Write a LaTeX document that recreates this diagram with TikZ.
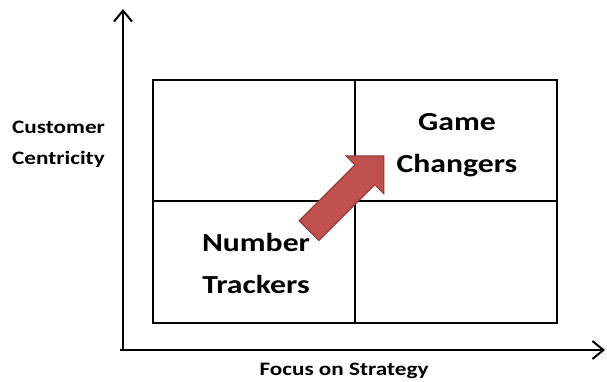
\documentclass[tikz,border=0pt]{standalone}
\usepackage{fontspec}
\setmainfont{Carlito}[FakeStretch=1.22]
\usetikzlibrary{arrows.meta}
\definecolor{arrowfill}{HTML}{C0504D}
\definecolor{arrowline}{HTML}{8C3836}
\begin{document}
\begin{tikzpicture}[x=1pt,y=-1pt,
  gridline/.style={line width=2pt,black},
  axis/.style={line width=2pt,black,-{Straight Barb[length=11pt,width=18pt,line width=2pt]}},
  quadlabel/.style={font=\bfseries\fontsize{26}{42}\selectfont,align=center,inner sep=0pt},
  axislabel/.style={font=\bfseries\fontsize{19}{31}\selectfont,inner sep=0pt},
  blockarrow/.style={fill=arrowfill,draw=arrowline,line width=1pt,line join=miter}]
\useasboundingbox (0,0) rectangle (607,381);
% axes
\coordinate (origin) at (123,350);
\coordinate (ytop) at (123,9);
\coordinate (xleft) at (120,350);
\coordinate (xright) at (605,350);
\draw[axis] (origin) -- (ytop);
\draw[axis] (xleft) -- (xright);
% quadrant grid
\coordinate (nw) at (153,80);
\coordinate (se) at (557,323);
\coordinate (midtop) at (355,80);
\coordinate (midbot) at (355,323);
\coordinate (midleft) at (153,201);
\coordinate (midright) at (557,201);
\draw[gridline] (nw) rectangle (se);
\draw[gridline] (midtop) -- (midbot);
\draw[gridline] (midleft) -- (midright);
% labels
\node[quadlabel,anchor=north] (game) at (457,113) {Game\\Changers};
\node[quadlabel,anchor=north] (number) at (256,233) {Number\\Trackers};
\node[axislabel,anchor=north west,align=left] (ylabel) at (12,121) {Customer\\Centricity};
\node[axislabel,anchor=north] (xlabel) at (344,363) {Focus on Strategy};
% block arrow from the lower-left to the upper-right quadrant
\coordinate (movetail) at (309,230.7);
\begin{scope}[shift={(movetail)},rotate=45]
  \draw[blockarrow] (0,-14) -- (79,-14) -- (79,-27) -- (106,0)
    -- (79,27) -- (79,14) -- (0,14) -- cycle;
  \coordinate (movetip) at (106,0);
\end{scope}
\end{tikzpicture}
\end{document}
